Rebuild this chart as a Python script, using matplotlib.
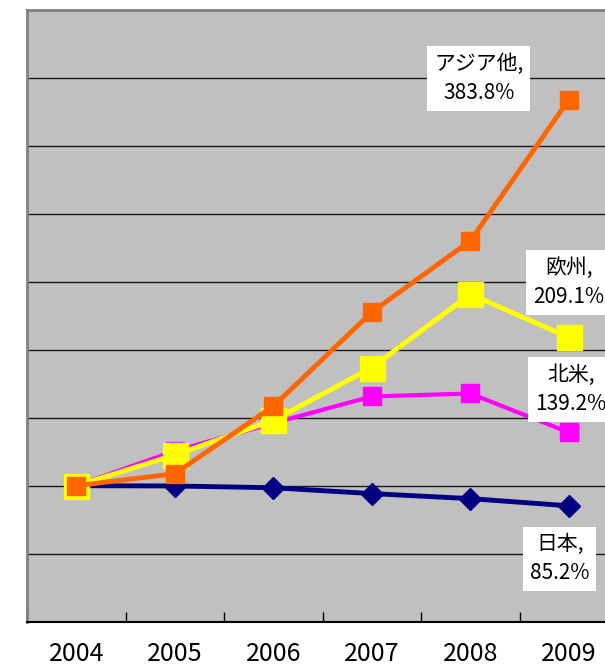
import matplotlib
matplotlib.use('Agg')
import matplotlib.pyplot as plt

# values (2004 = 100%)
years = ['2004', '2005', '2006', '2007', '2008', '2009']
japan = [100.0, 99.8, 98.5, 94.2, 90.5, 85.2]
north_america = [100.0, 125.5, 146.0, 165.6, 167.8, 139.2]
europe = [100.0, 122.6, 148.0, 186.8, 240.8, 209.1]
asia = [100.0, 108.8, 158.4, 227.6, 280.0, 383.8]
names = ['日本', '北米', '欧州', 'アジア他']

fonts = ['Noto Sans CJK JP', 'DejaVu Sans']

fig = plt.figure(figsize=(6.05, 6.71), dpi=100)
ax = fig.add_axes([27 / 605, 49.3 / 671, 591 / 605, 612 / 671])
ax.set_facecolor('#C0C0C0')

x = range(len(years))
ax.plot(x, japan, color='#000080', lw=3.5, marker='D', ms=11, zorder=3)
ax.plot(x, north_america, color='#FF00FF', lw=3, marker='s', ms=13.5, zorder=4)
ax.plot(x, europe, color='#FFFF00', lw=3.5, marker='s', ms=18, zorder=5)
ax.plot(x, asia, color='#FF6600', lw=3.5, marker='s', ms=13.5, zorder=6)

ax.set_xlim(-0.5, 5.5)
ax.set_ylim(0, 450)

# horizontal gridlines every 50%
for v in range(50, 450, 50):
    ax.axhline(v, color='#1a1a1a', lw=1, zorder=1)

ax.set_yticks([])
ax.set_xticks(list(x))
ax.set_xticklabels(years, fontsize=18, family=fonts)
ax.tick_params(axis='x', which='major', length=0, pad=14)
ax.set_xticks([i - 0.5 for i in range(len(years) + 1)], minor=True)
ax.tick_params(axis='x', which='minor', direction='in', length=7, width=1, color='black')

ax.spines['left'].set_color('#808080')
ax.spines['left'].set_linewidth(2)
ax.spines['top'].set_color('#808080')
ax.spines['top'].set_linewidth(2)
ax.spines['right'].set_visible(False)
ax.spines['bottom'].set_color('black')
ax.spines['bottom'].set_linewidth(1.5)

# end-of-line labels
series = [japan, north_america, europe, asia]
offsets = [(-9, -53), (2, 43), (0, 55), (-90, 21)]
for name, vals, off in zip(names, series, offsets):
    ax.annotate(f'{name},\n{vals[-1]:.1f}%', xy=(5, vals[-1]), xytext=off,
                textcoords='offset pixels', ha='center', va='center',
                fontsize=15, family=fonts, linespacing=1.4, zorder=10,
                bbox=dict(facecolor='white', edgecolor='none', pad=5))

fig.savefig('out.png', dpi=100)
